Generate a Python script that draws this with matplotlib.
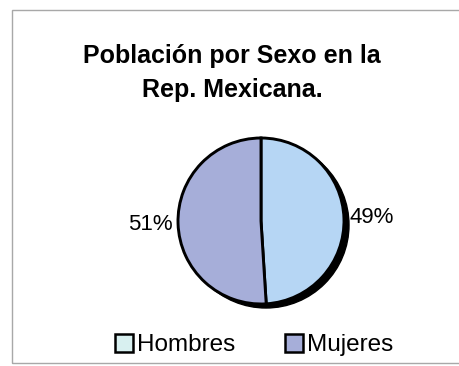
import matplotlib.pyplot as plt
from matplotlib.patches import Circle, Patch, Rectangle

plt.rcParams['font.family'] = ['Liberation Sans', 'DejaVu Sans']

categories = ['Hombres', 'Mujeres']
percentages = [49, 51]
pie_colors = ['#b6d6f4', '#a6aed9']
legend_colors = ['#d8f0f0', '#a6aed9']
title = 'Población por Sexo en la\nRep. Mexicana.'

fig = plt.figure(figsize=(4.6, 3.66), dpi=100)
fig.patch.set_facecolor('white')

# chart area frame (right edge runs off the page)
fig.patches.append(Rectangle((12 / 460, 3 / 366), 1.2, 353 / 366, transform=fig.transFigure,
                             facecolor='none', edgecolor='#a8a8a8', linewidth=1.0))

ax = fig.add_axes([0, 0, 1, 1])

cx, cy, r = 261, 145, 83
# dark drop shadow behind the pie
ax.add_patch(Circle((cx + 5, cy - 4), r, facecolor='black', edgecolor='black', zorder=0))

wedges, texts, autotexts = ax.pie(percentages, colors=pie_colors, startangle=90, counterclock=False,
                                  center=(cx, cy), radius=r, autopct='%1.0f%%', pctdistance=1.33,
                                  wedgeprops={'edgecolor': 'black', 'linewidth': 2.1},
                                  textprops={'fontsize': 16}, frame=True)
ax.set_xlim(0, 460)
ax.set_ylim(0, 366)
ax.set_aspect('equal')
ax.axis('off')
for w in wedges:
    w.set_zorder(1)

fig.text(0.505, 0.881, title, ha='center', va='top', fontsize=18, fontweight='bold', linespacing=1.55)

handles = [Patch(facecolor=c, edgecolor='black', linewidth=1.8) for c in legend_colors]
fig.legend(handles, categories, loc='center', bbox_to_anchor=(0.552, 0.057), ncol=2, frameon=False,
           fontsize=17.5, handlelength=0.75, handleheight=0.75, handletextpad=0.15, columnspacing=2.07)

fig.savefig('out.png', dpi=100)
